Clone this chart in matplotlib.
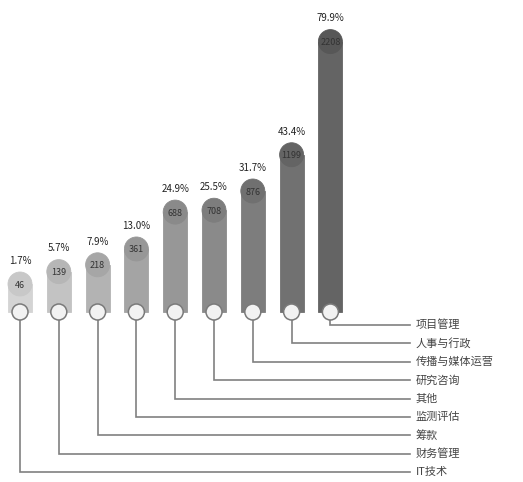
import matplotlib.pyplot as plt
from matplotlib.patches import Ellipse

plt.rcParams['font.family'] = ['Noto Sans CJK SC', 'DejaVu Sans']

# data, left to right
labels = ['IT技术', '财务管理', '筹款', '监测评估', '其他', '研究咨询', '传播与媒体运营', '人事与行政', '项目管理']
pcts = [1.7, 5.7, 7.9, 13.0, 24.9, 25.5, 31.7, 43.4, 79.9]
counts = [46, 139, 218, 361, 688, 708, 876, 1199, 2208]
colors = ['#d4d4d4', '#c3c3c3', '#b3b3b3', '#a4a4a4', '#979797',
          '#8a8a8a', '#7d7d7d', '#717171', '#646464']
cap_colors = ['#c8c8c8', '#b6b6b6', '#a6a6a6', '#979797', '#8a8a8a',
              '#7d7d7d', '#707070', '#646464', '#575757']

offset = 11.2      # bars start below the value so the small ones still show
px_x = 38.8        # pixels per x unit
px_y = 3.1         # pixels per y unit
bw = 24 / px_x
cap_h = 24 / px_y
circ_w, circ_h = 16 / px_x, 16 / px_y

fig = plt.figure(figsize=(5.23, 4.82), dpi=100)
ax = fig.add_axes([0, 0, 1, 1])
ax.set_xlim(-20 / px_x, 503 / px_x)
ax.set_ylim(-170 / px_y, 312 / px_y)
ax.axis('off')

n = len(pcts)
row_top = -13 / px_y
row_gap = 18.4 / px_y
line_end = 390 / px_x

for i, (p, c, col) in enumerate(zip(pcts, counts, colors)):
    top = p + offset
    ax.bar(i, top - cap_h / 2, width=bw, bottom=0, color=col,
           edgecolor=col, linewidth=0.6, zorder=2)
    ax.add_patch(Ellipse((i, top - cap_h / 2), bw, cap_h, facecolor=cap_colors[i],
                         edgecolor=cap_colors[i], linewidth=0.6, zorder=2))
    ax.text(i, top + 2.0, f'{p}%', ha='center', va='bottom', fontsize=7,
            color='#222222', zorder=4)
    ax.text(i, top - 4.2, str(c), ha='center', va='center', fontsize=6.5,
            color='#333333', zorder=4)
    # leader line
    ry = row_top - row_gap * (n - 1 - i)
    ax.plot([i, i, line_end], [0, ry, ry], color='#808080', lw=1.2,
            solid_joinstyle='miter', zorder=1)
    ax.text(line_end + 6 / px_x, ry, labels[i], ha='left', va='center',
            fontsize=8, color='#444444')
    ax.add_patch(Ellipse((i, 0), circ_w, circ_h, facecolor='#f2f2f2',
                         edgecolor='#7a7a7a', linewidth=1.1, zorder=3))

fig.savefig('out.png', dpi=100)
